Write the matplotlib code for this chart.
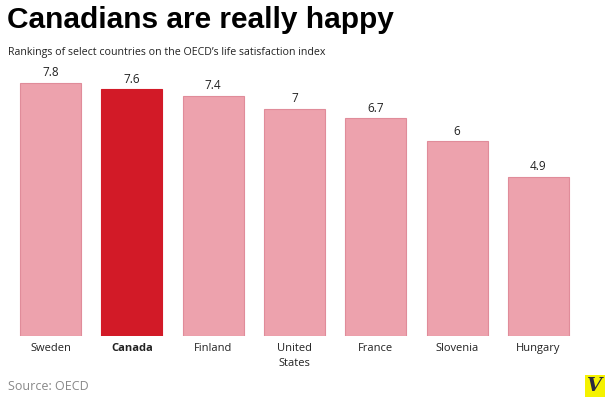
import matplotlib
matplotlib.use("Agg")
import matplotlib.pyplot as plt

# valores
paises = ["Sweden", "Canada", "Finland", "United\nStates", "France", "Slovenia", "Hungary"]
valores = [7.8, 7.6, 7.4, 7.0, 6.7, 6.0, 4.9]
rotulos = ["7.8", "7.6", "7.4", "7", "6.7", "6", "4.9"]
destaque = "Canada"

rosa = "#EDA2AD"
borda = "#E08C9A"
vermelho = "#D21A27"

fig = plt.figure(figsize=(6.12, 3.97), dpi=100)
ax = fig.add_axes([10 / 612, 61 / 397, 569 / 612, 260 / 397])

cores = [vermelho if p == destaque else rosa for p in paises]
bordas = [vermelho if p == destaque else borda for p in paises]
x = range(len(paises))
ax.bar(x, valores, width=0.75, color=cores, edgecolor=bordas, linewidth=0.8)

for i, (v, r) in enumerate(zip(valores, rotulos)):
    ax.text(i, v + 0.1, r, ha="center", va="bottom", fontsize=8.5,
            family="Open Sans", color="#222222", clip_on=False)

ax.set_xlim(-0.5, len(paises) - 0.5)
ax.set_ylim(0, 8.0)
ax.set_xticks(list(x))
ax.set_xticklabels(paises, fontsize=8, family="Open Sans", color="#222222",
                   linespacing=1.5)
for lbl in ax.get_xticklabels():
    if lbl.get_text() == destaque:
        lbl.set_fontweight("bold")
ax.tick_params(axis="x", length=0, pad=5)
ax.set_yticks([])
for s in ax.spines.values():
    s.set_visible(False)

fig.text(7 / 612, 1 - 20 / 397, "Canadians are really happy", fontsize=21.5,
         fontweight="bold", family="Liberation Sans", va="center", ha="left")
fig.text(8 / 612, 1 - 53 / 397,
         "Rankings of select countries on the OECD\u2019s life satisfaction index",
         fontsize=7.7, family="Open Sans", va="center", ha="left", color="#222222")
fig.text(8 / 612, 1 - 387 / 397, "Source: OECD", fontsize=9, family="Open Sans",
         color="#888888", va="center", ha="left")
fig.text(595 / 612, 1 - 386 / 397, "V", fontsize=14, fontweight="bold",
         fontstyle="italic", family="DejaVu Serif", color="#2a2a40",
         ha="center", va="center",
         bbox=dict(boxstyle="square,pad=0.1", fc="#F5F200", ec="none"))

fig.savefig("out.png", dpi=100)
